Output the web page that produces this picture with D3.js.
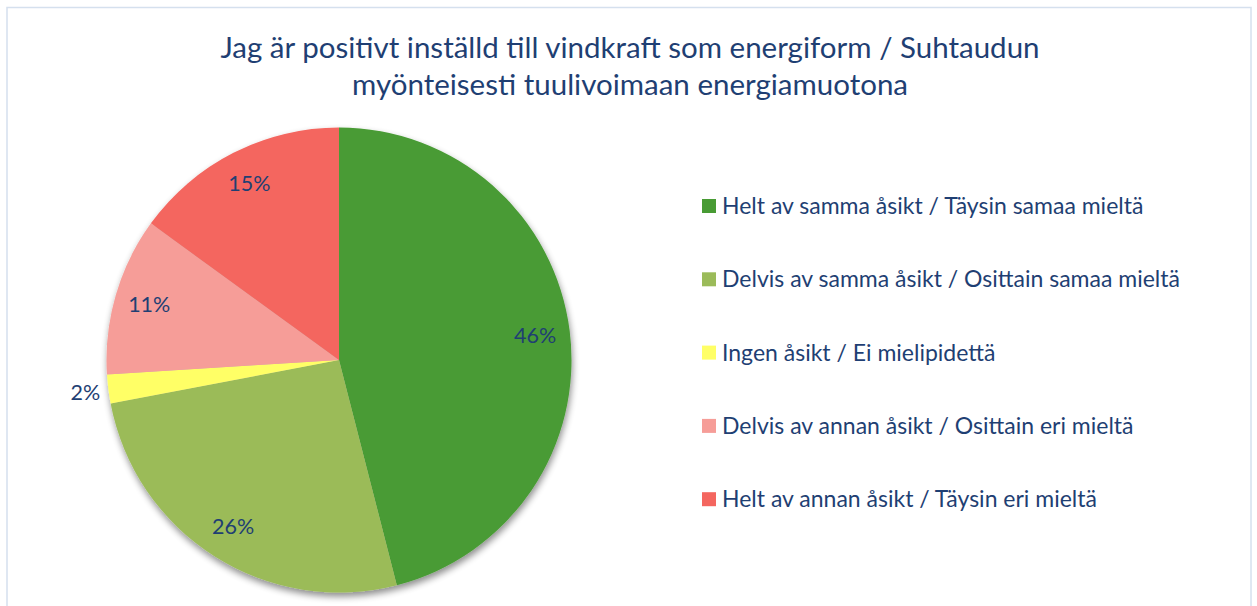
<!DOCTYPE html>
<html>
<head>
<meta charset="utf-8">
<script src="https://cdn.jsdelivr.net/npm/d3@7"></script>
<style>
  html, body { margin: 0; padding: 0; background: #fff; }
  svg { display: block; }
</style>
</head>
<body>
<svg id="chart"></svg>
<script>
// Pie chart: attitude to wind power (Swedish / Finnish survey)

const categories = [
  "Helt av samma åsikt / Täysin samaa mieltä",
  "Delvis av samma åsikt / Osittain samaa mieltä",
  "Ingen åsikt / Ei mielipidettä",
  "Delvis av annan åsikt / Osittain eri mieltä",
  "Helt av annan åsikt / Täysin eri mieltä"
];
const values = [46, 26, 2, 11, 15];
const valueLabels = ["46%", "26%", "2%", "11%", "15%"];
const colors = ["#489b34", "#9bbb59", "#ffff66", "#f69d98", "#f4665f"];
const titleLines = [
  "Jag är positivt inställd till vindkraft som energiform / Suhtaudun",
  "myönteisesti tuulivoimaan energiamuotona"
];

const W = 1257, H = 606;
const TEXT = "#1f3f73";
const FONT = "Lato, 'Open Sans', sans-serif";

const svg = d3.select("#chart").attr("width", W).attr("height", H);

// outer frame
svg.append("rect")
  .attr("x", 7).attr("y", 7.5)
  .attr("width", 1244).attr("height", 620)
  .attr("fill", "#fff")
  .attr("stroke", "#d5e0ee")
  .attr("stroke-width", 1.5);

// title
svg.append("g").selectAll("text").data(titleLines).enter()
  .append("text")
  .attr("x", 630).attr("y", (d, i) => 58 + i * 37)
  .attr("text-anchor", "middle")
  .attr("font-family", FONT)
  .attr("font-size", 29.5)
  .attr("fill", TEXT)
  .text(d => d);

// drop shadow for the pie
const defs = svg.append("defs");
const f = defs.append("filter").attr("id", "shadow")
  .attr("x", "-20%").attr("y", "-20%").attr("width", "140%").attr("height", "140%");
f.append("feGaussianBlur").attr("in", "SourceAlpha").attr("stdDeviation", 3.5).attr("result", "b");
f.append("feOffset").attr("in", "b").attr("dx", 1).attr("dy", 4).attr("result", "o");
f.append("feComponentTransfer").attr("in", "o").attr("result", "s")
  .append("feFuncA").attr("type", "linear").attr("slope", 0.45);
const m = f.append("feMerge");
m.append("feMergeNode").attr("in", "s");
m.append("feMergeNode").attr("in", "SourceGraphic");

const cx = 339, cy = 360, R = 232.5;
const pie = d3.pie().sort(null).value(d => d)(values);
const arc = d3.arc().innerRadius(0).outerRadius(R);

const gp = svg.append("g").attr("transform", `translate(${cx},${cy})`);
gp.append("g").attr("filter", "url(#shadow)")
  .selectAll("path").data(pie).enter()
  .append("path")
  .attr("d", arc)
  .attr("fill", (d, i) => colors[i]);

// data labels (inside, 2% placed outside)
const labelArc = d3.arc().innerRadius(R * 0.85).outerRadius(R * 0.85);
const outArc = d3.arc().innerRadius(R * 1.1).outerRadius(R * 1.1);
gp.selectAll("text.lbl").data(pie).enter()
  .append("text")
  .attr("class", "lbl")
  .attr("transform", (d, i) => `translate(${(values[i] < 5 ? outArc : labelArc).centroid(d)})`)
  .attr("text-anchor", "middle")
  .attr("dy", "0.35em")
  .attr("font-family", FONT)
  .attr("font-size", 21.5)
  .attr("fill", TEXT)
  .text((d, i) => valueLabels[i]);

// legend
const legend = svg.append("g").attr("transform", "translate(702,206)");
const rows = legend.selectAll("g").data(categories).enter()
  .append("g")
  .attr("transform", (d, i) => `translate(0,${i * 73.3})`);
rows.append("rect")
  .attr("x", 0).attr("y", -7)
  .attr("width", 14).attr("height", 14)
  .attr("fill", (d, i) => colors[i]);
rows.append("text")
  .attr("x", 20).attr("y", 0)
  .attr("dy", "0.35em")
  .attr("font-family", FONT)
  .attr("font-size", 23)
  .attr("fill", TEXT)
  .text(d => d);
</script>
</body>
</html>
